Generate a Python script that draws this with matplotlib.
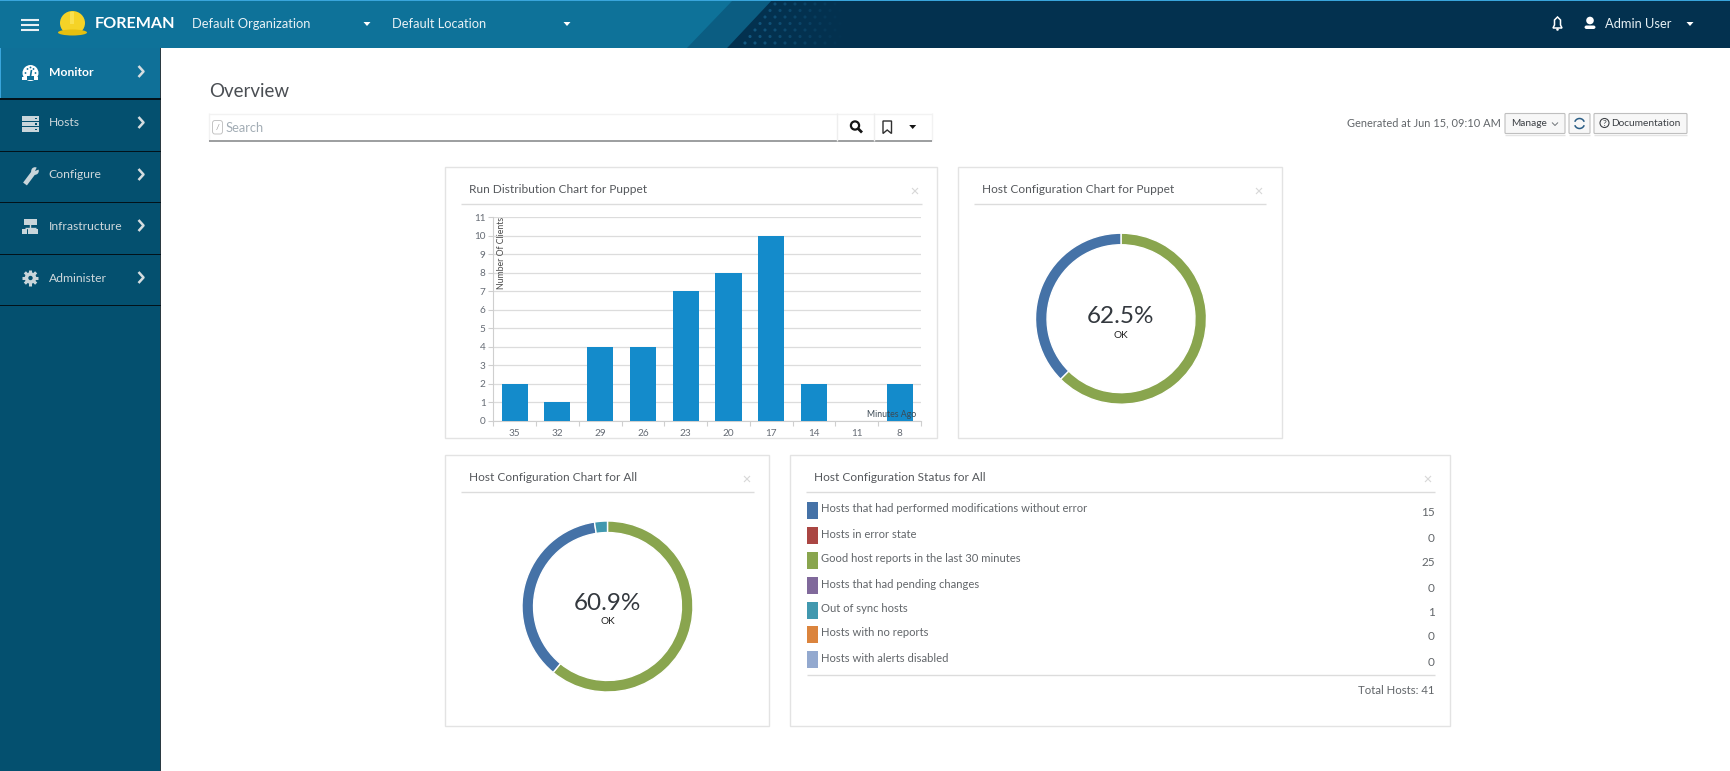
import numpy as np
import matplotlib
matplotlib.use("Agg")
from matplotlib import pyplot as plt
from matplotlib.patches import Rectangle, Polygon, Circle, Ellipse, FancyBboxPatch, Arc

WIDTH, HEIGHT = 1731, 771

# chart data
minutes_ago = ["35", "32", "29", "26", "23", "20", "17", "14", "11", "8"]
clients = [2, 1, 4, 4, 7, 8, 10, 2, 0, 2]
y_ticks = list(range(12))

status_labels = [
    "Hosts that had performed modifications without error",
    "Hosts in error state",
    "Good host reports in the last 30 minutes",
    "Hosts that had pending changes",
    "Out of sync hosts",
    "Hosts with no reports",
    "Hosts with alerts disabled",
]
status_counts = [15, 0, 25, 0, 1, 0, 0]
status_colors = ["#4572A7", "#AA4643", "#89A54E", "#80699B", "#4198AF", "#DB843D", "#93A9CF"]

puppet_values = [25, 15]
puppet_colors = ["#89A54E", "#4572A7"]
all_values = [25, 15, 1]
all_colors = ["#89A54E", "#4572A7", "#4198AF"]

menu_items = ["Monitor", "Hosts", "Configure", "Infrastructure", "Administer"]

plt.rcParams["font.family"] = ["Lato", "DejaVu Sans"]

TITLE = "#55585c"
GRID = "#dcdcdc"
BORDER = "#e3e3e3"

fig = plt.figure(figsize=(WIDTH / 100, HEIGHT / 100), dpi=100, facecolor="white")
bg = fig.add_axes([0, 0, 1, 1])
bg.set_xlim(0, WIDTH)
bg.set_ylim(HEIGHT, 0)
bg.axis("off")


def px_axes(x0, y0, x1, y1):
    return fig.add_axes([x0 / WIDTH, 1 - y1 / HEIGHT, (x1 - x0) / WIDTH, (y1 - y0) / HEIGHT])


def rect(x0, y0, x1, y1, color, z=1, **kw):
    bg.add_patch(Rectangle((x0, y0), x1 - x0, y1 - y0, facecolor=color, edgecolor="none", zorder=z, **kw))


def line(xs, ys, color, lw=1.0, z=3):
    bg.plot(xs, ys, color=color, lw=lw, zorder=z, solid_capstyle="butt")


def label(x, y, s, size, color=TITLE, ha="left", weight="normal", z=5):
    bg.text(x, y, s, fontsize=size, color=color, ha=ha, va="center", fontweight=weight, zorder=z)


def caret(x, y, color="white"):
    bg.add_patch(Polygon([(x - 3.5, y - 2), (x + 3.5, y - 2), (x, y + 2)], facecolor=color, edgecolor="none", zorder=5))


# ===== top bar =====
rect(0, 0, WIDTH, 48, "#0e7299")
bg.add_patch(Polygon([(687, 48), (733, 0), (772, 0), (727, 48)], facecolor="#0b5d82", edgecolor="none", zorder=2))
bg.add_patch(Polygon([(727, 48), (772, 0), (WIDTH, 0), (WIDTH, 48)], facecolor="#03314f", edgecolor="none", zorder=2))
dots_x, dots_y, dots_a = [], [], []
for row, y in enumerate(np.arange(4, 48, 6.5)):
    for x in np.arange(735 + (row % 2) * 5, 880, 10):
        if x - 5 > 727 + (48 - y) * 0.94:
            dots_x.append(x)
            dots_y.append(y)
            dots_a.append(max(0.0, 0.75 - (x - 740) / 140))
bg.scatter(dots_x, dots_y, s=5, c=[(0.1, 0.42, 0.6, a) for a in dots_a], linewidths=0, zorder=3)
rect(0, 0, WIDTH, 1.2, "#39a5dc", z=4)

for y in (20, 25, 30):
    line([21, 39], [y, y], "#e8f1f5", lw=1.5)

# helmet
bg.add_patch(Ellipse((72.5, 23), 25, 24, facecolor="#f5d327", edgecolor="none", zorder=4))
bg.add_patch(Ellipse((72.5, 32.5), 29, 6, facecolor="#e6bf0f", edgecolor="none", zorder=4))
rect(70.5, 11.5, 74.5, 24, "#f9e04f", z=5)
label(94.5, 23.5, "FOREMAN", 11.6, "white", weight="bold")
label(192, 23.5, "Default Organization", 9.3, "#e8f1f5")
caret(367, 24)
label(392, 23.5, "Default Location", 9.3, "#e8f1f5")
caret(567, 24)

# bell and user
bg.add_patch(Polygon([(1553, 28), (1554.5, 25), (1554.5, 20), (1557.5, 17), (1560.5, 20), (1560.5, 25), (1562, 28)],
                     facecolor="none", edgecolor="white", lw=1.1, zorder=5))
bg.add_patch(Circle((1557.5, 29.5), 1.3, facecolor="white", zorder=5))
bg.add_patch(Circle((1590, 20.5), 3.8, facecolor="white", zorder=5))
bg.add_patch(FancyBboxPatch((1584.5, 25.5), 11, 3.5, boxstyle="round,pad=0,rounding_size=2", facecolor="white", edgecolor="none", zorder=5))
label(1605, 23.5, "Admin User", 9.3, "#e8f1f5")
caret(1690, 24)

# ===== side menu =====
rect(0, 48, 161, HEIGHT, "#04506f")
rect(0, 48, 161, 98, "#0f7098")
rect(0, 48, 1.5, 98, "#39a5dc", z=2)
rect(160, 48, 161.5, HEIGHT, "#2b3a42", z=2)
rect(0, 97.5, 161, 100, "#02121a", z=2)
for y in (150.5, 202, 253.5, 305):
    rect(0, y, 161, y + 1.2, "#02121a", z=2)

menu_y = [72, 123, 175, 226, 278]
for name, y in zip(menu_items, menu_y):
    active = name == "Monitor"
    label(48.6, y, name, 8.7, "white" if active else "#cfd8dc", weight="bold" if active else "normal")
    line([138.5, 143.5, 138.5], [y - 6, y - 0.5, y + 5], "#d5dde0", lw=1.8)

ICON = "#c9d5da"
# gauge
bg.add_patch(Circle((30.5, 73), 8, facecolor="white", zorder=4))
rect(22.5, 77, 38.5, 79.5, "white", z=4)
rect(27, 76, 34, 79.5, "#0f7098", z=5)
for dx, dy in [(-5, 0), (-3, -4), (0, -5.5), (3, -4), (5, 0)]:
    bg.add_patch(Circle((30.5 + dx, 73 + dy), 0.9, facecolor="#0f7098", zorder=5))
line([30.5, 31.5], [76, 70], "#0f7098", lw=1.2, z=5)
# hosts
for y in (116, 121.5, 127):
    rect(22, y, 39, y + 4.5, ICON, z=4)
    rect(35, y + 1.5, 37, y + 3, "#04506f", z=5)
# wrench
line([25, 34], [184, 172], ICON, lw=3.4, z=4)
bg.add_patch(Circle((35, 171), 3.8, facecolor=ICON, zorder=4))
bg.add_patch(Polygon([(35, 171), (38, 165), (40, 169)], facecolor="#04506f", edgecolor="none", zorder=5))
# infrastructure
rect(24, 219, 37, 224.5, ICON, z=4)
line([30.5, 30.5], [224, 229], ICON, lw=1)
line([25, 36], [227.5, 227.5], ICON, lw=1)
for x in (22.5, 28, 33.5):
    rect(x, 229, x + 5, 234, ICON, z=4)
# gear
bg.add_patch(Circle((30.5, 278), 5.8, facecolor=ICON, zorder=4))
for ang in np.arange(0, 360, 45):
    c, s = np.cos(np.radians(ang)), np.sin(np.radians(ang))
    line([30.5 + 4 * c, 30.5 + 8 * c], [278 + 4 * s, 278 + 8 * s], ICON, lw=2.2, z=4)
bg.add_patch(Circle((30.5, 278), 2.2, facecolor="#04506f", zorder=5))

# ===== page header and search =====
label(209, 91.5, "Overview", 13.5, "#4a4e53")
rect(209, 113, 932, 141, "white", z=1)
line([209, 932], [113.5, 113.5], "#f2f2f2")
line([932, 932], [113, 141], "#f2f2f2")
line([209, 209], [113, 141], "#f2f2f2")
line([209, 932], [141, 141], "#8b8d8f", lw=1.2)
line([837.5, 837.5], [113, 141], "#eeeeee")
line([874.5, 874.5], [113, 141], "#eeeeee")
bg.add_patch(FancyBboxPatch((212.5, 120.5), 10, 13.5, boxstyle="round,pad=0,rounding_size=2.5",
                            facecolor="white", edgecolor="#c4c4c4", lw=0.7, zorder=4))
label(217.5, 127, "/", 6, "#9a9a9a", ha="center")
label(226, 127.5, "Search", 9.3, "#a3adb5")
bg.add_patch(Circle((855, 125.5), 4.1, facecolor="none", edgecolor="#151515", lw=1.6, zorder=4))
line([858, 862], [128.5, 132.5], "#151515", lw=2.0)
bg.add_patch(Polygon([(883, 121), (891.5, 121), (891.5, 133.5), (887.2, 130), (883, 133.5)],
                     facecolor="none", edgecolor="#303030", lw=1, zorder=4))
caret(912.7, 127, "#151515")

label(1501, 123, "Generated at Jun 15, 09:10 AM", 7.9, "#62666a", ha="right")
for x0, x1 in [(1505, 1565), (1569, 1590), (1594, 1687)]:
    bg.add_patch(FancyBboxPatch((x0, 113.5), x1 - x0, 20, boxstyle="round,pad=0,rounding_size=1",
                                facecolor="#f7f7f7", edgecolor="#bfbfbf", lw=0.8, zorder=3))
    line([x0, x1], [134.5, 134.5], "#e4e4e4", lw=1)
label(1511, 124, "Manage", 7.3, "#3c4045")
line([1552, 1555, 1558], [122.5, 125.5, 122.5], "#70757a", lw=0.7)
bg.add_patch(Arc((1579.5, 123.5), 10, 10, theta1=200, theta2=340, color="#2a5d85", lw=1.1, zorder=5))
bg.add_patch(Arc((1579.5, 123.5), 10, 10, theta1=20, theta2=160, color="#2a5d85", lw=1.1, zorder=5))
bg.add_patch(Circle((1604.5, 123), 4.5, facecolor="none", edgecolor="#3c4045", lw=0.8, zorder=5))
label(1604.5, 123, "?", 6, "#3c4045", ha="center")
label(1611, 124, "Documentation", 7.3, "#3c4045")


# ===== dashboard panels =====
def panel(x0, y0, x1, y1, title, rule_x0, rule_x1):
    bg.add_patch(Rectangle((x0, y0), x1 - x0, y1 - y0, facecolor="white", edgecolor=BORDER, lw=1, zorder=1))
    label(rule_x0 + 8, y0 + 22.5, title, 8.6)
    line([rule_x0, rule_x1], [y0 + 37, y0 + 37], GRID, lw=1)
    cx, cy = rule_x1 - 7, y0 + 24
    line([cx - 3, cx + 3], [cy - 3, cy + 3], "#d8d8d8", lw=0.8)
    line([cx - 3, cx + 3], [cy + 3, cy - 3], "#d8d8d8", lw=0.8)


panel(445, 167, 937, 438, "Run Distribution Chart for Puppet", 461, 922)
panel(958, 167, 1282, 438, "Host Configuration Chart for Puppet", 974, 1266)
panel(445, 455, 769, 726, "Host Configuration Chart for All", 461, 754)
panel(790, 455, 1450, 726, "Host Configuration Status for All", 806, 1435)

# bar chart
ax = px_axes(493.3, 217.3, 921, 421)
positions = np.arange(len(clients))
ax.bar(positions, clients, width=0.61, color="#148bcb", zorder=3)
ax.set_xlim(-0.5, len(clients) - 0.5)
ax.set_ylim(0, 11)
ax.set_yticks(y_ticks)
ax.set_yticklabels([str(v) for v in y_ticks], fontsize=7.2, color="#666c75")
ax.set_xticks(np.arange(-0.5, len(clients), 1))
ax.set_xticklabels([])
ax.set_xticks(positions, labels=minutes_ago, minor=True, fontsize=7.2, color="#666c75")
ax.tick_params(axis="x", which="major", length=3.6, color="#cfcfcf", width=0.8)
ax.tick_params(axis="x", which="minor", length=0, pad=5.5)
ax.tick_params(axis="y", length=3.6, color="#cfcfcf", width=0.8, pad=2)
ax.grid(axis="y", color=GRID, lw=0.9, zorder=0)
ax.set_axisbelow(True)
for side in ("top", "right"):
    ax.spines[side].set_visible(False)
for side in ("left", "bottom"):
    ax.spines[side].set_color("#cfcfcf")
ax.patch.set_alpha(0)
ax.text(0.0195, 1.0, "Number Of Clients", transform=ax.transAxes, rotation=90, fontsize=6.3,
        color="#4a4a4a", ha="center", va="top", zorder=6)
ax.text(0.99, 0.031, "Minutes Ago", transform=ax.transAxes, fontsize=6.3, color="#3c4a55",
        ha="right", va="center", zorder=6)


# donuts
def donut(cx, cy, radius, values, colors, pct, pct_y, ok_y):
    dax = px_axes(cx - radius, cy - radius, cx + radius, cy + radius)
    dax.pie(values, colors=colors, startangle=90, counterclock=False, radius=1,
            wedgeprops=dict(width=0.135, edgecolor="white", linewidth=1.0))
    dax.set_xlim(-1, 1)
    dax.set_ylim(-1, 1)
    dax.axis("off")
    bg.text(cx, pct_y, pct, fontsize=17.5, color="#33383e", ha="center", va="center", zorder=6)
    bg.text(cx, ok_y, "OK", fontsize=7.2, color="#222222", ha="center", va="center", zorder=6)
    dax.patch.set_alpha(0)


donut(1121, 318.7, 85.5, puppet_values, puppet_colors, "62.5%", 316.7, 335)
donut(607.5, 606.5, 85.5, all_values, all_colors, "60.9%", 604, 622)

# status table
swatch_y = [502, 527, 552, 577, 602, 626, 651]
for name, count, color, y in zip(status_labels, status_counts, status_colors, swatch_y):
    rect(807, y, 818, y + 16.5, color, z=3)
    label(821, y + 7, name, 8.1, "#62666a")
    label(1435, y + 11, str(count), 8.5, "#62666a", ha="right")
line([807, 1435], [675, 675], GRID, lw=1)
label(1435, 690, "Total Hosts: 41", 8.2, "#62666a", ha="right")

fig.savefig("out.png", dpi=100)
